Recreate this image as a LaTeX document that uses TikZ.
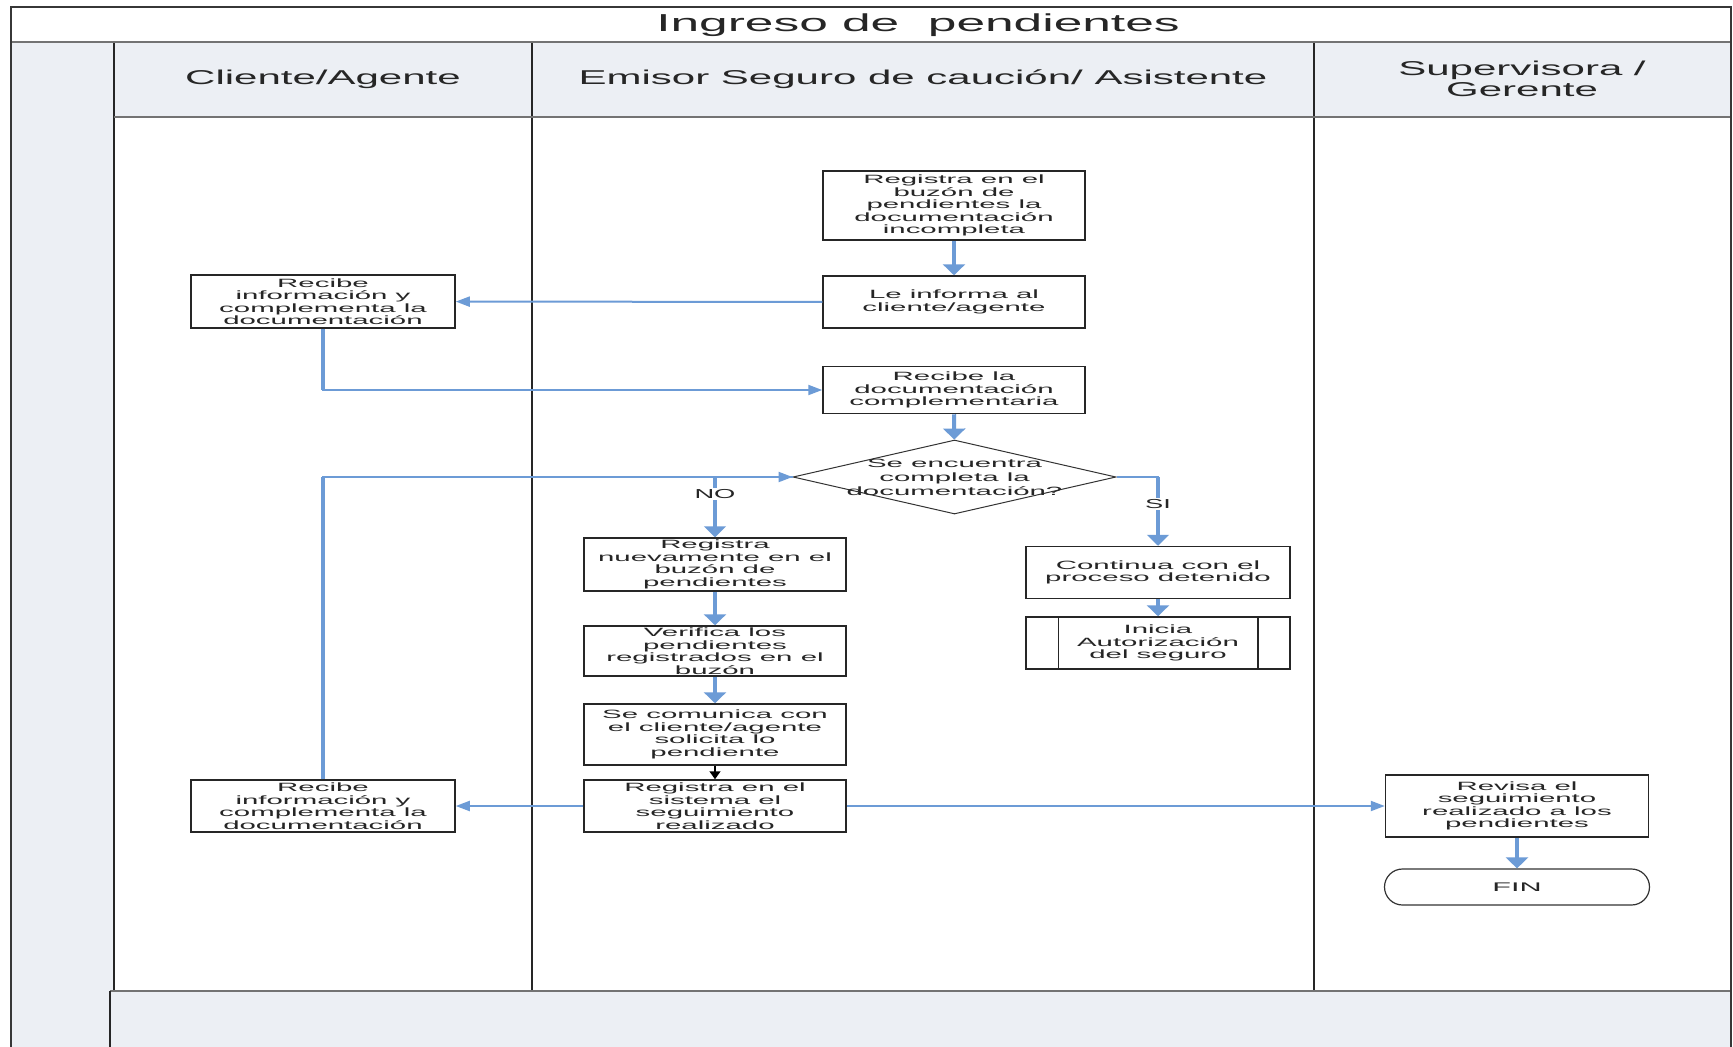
\documentclass[tikz,border=0pt]{standalone}
\usepackage{fontspec}
\setmainfont{Liberation Sans}[FakeStretch=2.1]
\newfontfamily\cajafont{Liberation Sans}[FakeStretch=2.45]
\usetikzlibrary{arrows.meta,shapes.geometric,shapes.misc}

\newlength{\du}
\setlength{\du}{1pt}

\definecolor{lanefill}{RGB}{236,239,244}
\definecolor{flowblue}{RGB}{108,155,214}
\definecolor{framegray}{RGB}{55,55,55}

\tikzset{
  marco/.style={draw=framegray, line width=2.5\du},
  linea/.style={draw=black!85, line width=1.8\du},
  paso/.style={draw=black!85, line width=1.5\du, fill=white, text=black!85, minimum width=262\du,
    inner sep=0pt, align=center, font=\cajafont\fontsize{12}{12.5}\selectfont},
  decision/.style={diamond, draw=black!80, line width=1\du, fill=white,
    minimum width=323\du, minimum height=74\du, inner sep=0pt},
  textodec/.style={align=center, inner sep=0pt, text=black!85, font=\cajafont\fontsize{12}{14}\selectfont},
  fin/.style={rounded rectangle, draw=black!80, line width=1.2\du, fill=white, text=black!85,
    minimum width=265\du, minimum height=36\du, inner sep=0pt, font=\cajafont\fontsize{12.5}{12.5}\selectfont},
  carril/.style={align=center, text=black!85, font=\fontsize{20}{21}\selectfont},
  titulo/.style={text=black!85, font=\fontsize{24.5}{25}\selectfont},
  flujo/.style={draw=flowblue, line width=4\du, -{Triangle[length=11pt, width=22pt]}},
  enlace/.style={draw=flowblue, line width=2\du, -{Triangle[length=14pt, width=10pt]}},
  bajada/.style={draw=flowblue, line width=2\du, -{Triangle[length=11pt, width=22pt]}},
  tramo/.style={draw=flowblue, line width=4\du},
  negra/.style={draw=black, line width=1.5\du, -{Triangle[length=8pt, width=11pt]}},
  rama/.style={fill=white, inner sep=1.5\du, text=black!85, font=\fontsize{13}{13}\selectfont}
}

\begin{document}
\begin{tikzpicture}
\pgftransformyscale{-1.000000}
\useasboundingbox (0\du,0\du) rectangle (1733\du,1047\du);
\clip (0\du,0\du) rectangle (1733\du,1047\du);
% pool
\fill[white] (0\du,0\du) rectangle (1733\du,1047\du);
\fill[lanefill] (11\du,42\du) rectangle (114\du,1060\du);
\fill[lanefill] (114\du,42\du) rectangle (1731\du,117\du);
\fill[lanefill] (110\du,991\du) rectangle (1731\du,1060\du);
\draw[linea] (114\du,42\du)--(114\du,991\du);
\draw[linea] (532\du,42\du)--(532\du,991\du);
\draw[linea] (1314\du,42\du)--(1314\du,991\du);
\draw[linea, draw=black!55] (114\du,117\du)--(1731\du,117\du);
\draw[linea, draw=black!55] (110\du,991\du)--(1731\du,991\du);
\draw[linea] (110\du,991\du)--(110\du,1060\du);
\draw[marco, draw=black!55] (11\du,42\du)--(1731\du,42\du);
\draw[marco] (11\du,7\du) rectangle (1731\du,1060\du);
% setfont left to latex
\node[titulo] (titulo) at (918\du,25\du){Ingreso de \ pendientes};
\node[carril] (cliente) at (323\du,79\du){Cliente/Agente};
\node[carril] (emisor) at (923\du,79\du){Emisor Seguro de caución/ Asistente};
\node[carril] (gerente) at (1522\du,79\du){Supervisora /\\Gerente};
% emisor
\node[paso, minimum height=69\du] (registra) at (954\du,205.5\du){Registra en el\\buzón de\\pendientes la\\documentación\\incompleta};
\node[paso, minimum height=52\du] (informa) at (954\du,302\du){Le informa al\\cliente/agente};
\node[paso, minimum height=47\du] (recibedoc) at (954\du,390\du){Recibe la\\documentación\\complementaria};
\node[decision] (completa) at (954.5\du,477\du){};
\node[textodec] (preg) at (completa.center){Se encuentra\\completa la\\documentación?};
\node[paso, minimum height=53\du] (nuevamente) at (715\du,564.5\du){Registra\\nuevamente en el\\buzón de\\pendientes};
\node[paso, minimum height=50\du] (verifica) at (715\du,651\du){Verifica los\\pendientes\\registrados en el\\buzón};
\node[paso, minimum height=61\du] (comunica) at (715\du,734.5\du){Se comunica con\\el cliente/agente\\solicita lo\\pendiente};
\node[paso, minimum height=52\du] (sistema) at (715\du,806\du){Registra en el\\sistema el\\seguimiento\\realizado};
\node[paso, minimum width=264\du, minimum height=52\du] (continua) at (1158\du,572.5\du){Continua con el\\proceso detenido};
\node[paso, minimum width=264\du, minimum height=52\du] (autoriza) at (1158\du,643\du){Inicia\\Autorización\\del seguro};
\draw[line width=1.5\du, black!85] ([xshift=33\du]autoriza.north west)--([xshift=33\du]autoriza.south west);
\draw[line width=1.5\du, black!85] ([xshift=-33\du]autoriza.north east)--([xshift=-33\du]autoriza.south east);
% cliente
\node[paso, minimum width=264\du, minimum height=53\du] (recibe) at (323\du,301.5\du){Recibe\\información y\\complementa la\\documentación};
\node[paso, minimum width=264\du, minimum height=52\du] (recibedos) at (323\du,806\du){Recibe\\información y\\complementa la\\documentación};
% gerente
\node[paso, minimum width=263\du, minimum height=62\du] (revisa) at (1517\du,806\du){Revisa el\\seguimiento\\realizado a los\\pendientes};
\node[fin] (final) at (1517\du,887\du){FIN};
% conectores
\draw[flujo] (registra)--(informa);
\draw[enlace] (informa)--(recibe);
\draw[enlace] (recibe.south)|-(recibedoc.west);
\draw[tramo] (recibe.south)--(recibe.south|-recibedoc.west);
\draw[flujo] (recibedoc)--(completa);
\draw[enlace] (recibedos.north)|-(completa.west);
\draw[tramo] (recibedos.north)--(recibedos.north|-completa.west);
\draw[bajada] (completa.west)-|(nuevamente.north);
\draw[tramo, shorten >=10pt] (completa.west-|nuevamente.north)--(nuevamente.north) node[rama, pos=0.28]{NO};
\draw[bajada] (completa.east)-|(continua.north);
\draw[tramo, shorten >=10pt] (completa.east-|continua.north)--(continua.north) node[rama, pos=0.39]{SI};
\draw[flujo] (continua)--(autoriza);
\draw[flujo] (nuevamente)--(verifica);
\draw[flujo] (verifica)--(comunica);
\draw[negra] (comunica)--(sistema);
\draw[enlace] (sistema)--(recibedos);
\draw[enlace] (sistema)--(revisa);
\draw[flujo] (revisa)--(final);
\end{tikzpicture}
\end{document}
